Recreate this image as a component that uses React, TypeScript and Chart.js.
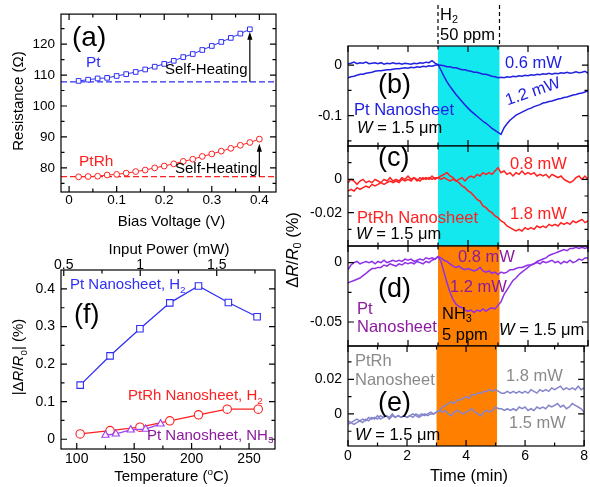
import React, { useEffect, useRef } from 'react';
import { Chart, registerables } from 'chart.js';

Chart.register(...registerables);

const FONT = "'Liberation Sans', Arial, Helvetica, sans-serif";
Chart.defaults.font.family = FONT;
const PAGE_W = 590;
const PAGE_H = 487;

// ---------------- Panel (a): Resistance vs bias voltage ----------------
const biasVoltagePt = [0.02, 0.04, 0.06, 0.08, 0.1, 0.12, 0.14, 0.16, 0.18, 0.2, 0.22, 0.24, 0.26, 0.28, 0.3, 0.32, 0.34, 0.36, 0.38];
const resistancePt = [108.1, 108.5, 108.9, 109.1, 109.7, 110.3, 111.0, 111.8, 112.7, 113.6, 114.6, 115.8, 116.8, 118.1, 119.4, 120.7, 122.0, 123.4, 124.8];
const biasVoltagePtRh = [0.02, 0.04, 0.06, 0.08, 0.1, 0.12, 0.14, 0.16, 0.18, 0.2, 0.22, 0.24, 0.26, 0.28, 0.3, 0.32, 0.34, 0.36, 0.38, 0.4];
const resistancePtRh = [77.1, 77.2, 77.3, 77.7, 77.9, 78.3, 78.8, 79.3, 80.0, 80.6, 81.3, 82.1, 82.8, 83.7, 84.5, 85.4, 86.3, 87.3, 88.2, 89.3];
const baselinePt = 107.8;
const baselinePtRh = 77.2;
const arrowPt = { x: 0.38, from: 107.8, to: 124.0 };
const arrowPtRh = { x: 0.4, from: 77.2, to: 87.8 };
const aXTicks = [0, 0.1, 0.2, 0.3, 0.4];
const aXMinor = [0.05, 0.15, 0.25, 0.35];
const aYTicks = [80, 90, 100, 110, 120];
const aYMinor = [75, 85, 95, 105, 115, 125];

// ---------------- Panel (f): |dR/R0| vs temperature ----------------
const tempPtH2 = [103, 129, 155, 181, 206, 232, 257];
const responsePtH2 = [0.144, 0.222, 0.294, 0.363, 0.408, 0.364, 0.326];
const tempPtRhH2 = [103, 129, 155, 181, 206, 231, 258];
const responsePtRhH2 = [0.014, 0.023, 0.032, 0.049, 0.065, 0.080, 0.080];
const tempPtNH3 = [125, 134, 147, 160, 173];
const responsePtNH3 = [0.011, 0.014, 0.025, 0.027, 0.041];
const fXTicks = [100, 150, 200, 250];
const fXMinor = [125, 175, 225];
const fTopTicks = [0.5, 1, 1.5];
const fTopMinor = [0.75, 1.25, 1.75];
const fYTicks = [0, 0.1, 0.2, 0.3, 0.4];
const fYMinor = [0.05, 0.15, 0.25, 0.35];

// ---------------- Panels (b)-(e): transients ----------------
const timeMin = [
  0, 0.1, 0.2, 0.3, 0.4, 0.5, 0.6, 0.7, 0.8, 0.9,
  1, 1.1, 1.2, 1.3, 1.4, 1.5, 1.6, 1.7, 1.8, 1.9,
  2, 2.1, 2.2, 2.3, 2.4, 2.5, 2.6, 2.7, 2.8, 2.9,
  3, 3.1, 3.2, 3.3, 3.4, 3.5, 3.6, 3.7, 3.8, 3.9,
  4, 4.1, 4.2, 4.3, 4.4, 4.5, 4.6, 4.7, 4.8, 4.9,
  5, 5.1, 5.2, 5.3, 5.4, 5.5, 5.6, 5.7, 5.8, 5.9,
  6, 6.1, 6.2, 6.3, 6.4, 6.5, 6.6, 6.7, 6.8, 6.9,
  7, 7.1, 7.2, 7.3, 7.4, 7.5, 7.6, 7.7, 7.8, 7.9,
  8,
];
const exposureStart = 3;
const exposureEnd = 5.05;
const timeTicks = [0, 2, 4, 6, 8];
const timeMinor = [1, 3, 5, 7];

const ptH2_06mW = [
  0.003, 0.004, 0.006, 0.003, 0.005, 0.004, 0.006, 0.003, 0.004, 0.005,
  0.003, 0.005, 0.002, 0.004, 0.003, 0.005, 0.003, 0.004, 0.002, 0.004,
  0.003, 0.002, 0.004, 0.003, 0.005, 0.004, 0.006, 0.005, 0.009, 0.004,
  0.001, 0.000, -0.001, -0.003, -0.003, -0.005, -0.005, -0.007, -0.009, -0.009,
  -0.011, -0.012, -0.014, -0.014, -0.016, -0.018, -0.018, -0.020, -0.022, -0.023,
  -0.025, -0.024, -0.025, -0.023, -0.024, -0.022, -0.023, -0.021, -0.022, -0.020,
  -0.021, -0.019, -0.020, -0.018, -0.019, -0.017, -0.018, -0.016, -0.018, -0.016,
  -0.017, -0.015, -0.016, -0.014, -0.016, -0.015, -0.013, -0.015, -0.014, -0.012,
  -0.016,
];
const ptH2_12mW = [
  -0.025, -0.023, -0.022, -0.020, -0.018, -0.018, -0.016, -0.015, -0.014, -0.012,
  -0.011, -0.011, -0.010, -0.009, -0.009, -0.008, -0.007, -0.007, -0.006, -0.005,
  -0.006, -0.004, -0.005, -0.003, -0.004, -0.002, -0.003, -0.001, -0.002, 0.000,
  0.001, -0.010, -0.022, -0.033, -0.042, -0.050, -0.058, -0.065, -0.072, -0.079,
  -0.085, -0.091, -0.096, -0.101, -0.106, -0.111, -0.115, -0.120, -0.125, -0.129,
  -0.133, -0.137, -0.124, -0.116, -0.109, -0.104, -0.099, -0.096, -0.093, -0.090,
  -0.087, -0.085, -0.082, -0.080, -0.078, -0.075, -0.074, -0.072, -0.071, -0.069,
  -0.067, -0.066, -0.064, -0.063, -0.061, -0.059, -0.058, -0.056, -0.055, -0.053,
  -0.051,
];
const ptRhH2_08mW = [
  -0.002, 0.000, -0.001, -0.003, -0.001, 0.000, -0.002, -0.001, -0.002, 0.000,
  -0.001, -0.002, 0.000, -0.001, 0.001, -0.001, 0.000, -0.001, 0.001, 0.000,
  0.002, 0.000, 0.001, -0.001, 0.001, 0.000, 0.001, 0.000, 0.002, 0.000,
  0.001, 0.000, 0.001, 0.000, -0.001, 0.000, -0.001, 0.000, 0.001, -0.001,
  0.001, 0.002, 0.001, 0.003, 0.002, 0.004, 0.003, 0.004, 0.003, 0.005,
  0.007, 0.004, 0.005, 0.003, 0.004, 0.002, 0.004, 0.003, 0.005, 0.003,
  0.004, 0.003, 0.004, 0.002, 0.003, 0.002, 0.003, 0.001, 0.003, 0.002,
  0.001, 0.002, 0.000, -0.001, -0.002, -0.001, 0.001, 0.002, 0.000, 0.002,
  0.000,
];
const ptRhH2_18mW = [
  -0.007, -0.006, -0.007, -0.005, -0.006, -0.005, -0.004, -0.005, -0.003, -0.004,
  -0.003, -0.002, -0.003, -0.002, -0.001, -0.002, -0.001, -0.002, 0.000, -0.001,
  0.000, -0.001, 0.001, 0.000, -0.001, 0.001, 0.000, 0.001, 0.000, 0.001,
  0.001, 0.002, 0.003, 0.004, 0.002, 0.001, -0.001, -0.002, -0.004, -0.005,
  -0.007, -0.008, -0.010, -0.012, -0.013, -0.016, -0.017, -0.019, -0.020, -0.022,
  -0.023, -0.025, -0.026, -0.028, -0.029, -0.030, -0.031, -0.030, -0.031, -0.029,
  -0.030, -0.029, -0.030, -0.028, -0.029, -0.028, -0.029, -0.027, -0.028, -0.027,
  -0.028, -0.026, -0.027, -0.026, -0.027, -0.025, -0.026, -0.025, -0.024, -0.026,
  -0.025,
];
const ptNH3_08mW = [
  -0.006, -0.002, 0.000, 0.001, -0.001, 0.000, 0.001, 0.000, 0.001, -0.001,
  0.001, 0.000, 0.002, 0.000, 0.001, 0.002, 0.001, 0.002, 0.001, 0.003,
  0.002, 0.003, 0.001, 0.002, 0.003, 0.002, 0.004, 0.003, 0.004, 0.003,
  0.005, 0.004, 0.002, 0.001, -0.001, -0.003, -0.004, -0.003, -0.005, -0.006,
  -0.005, -0.006, -0.007, -0.006, -0.004, -0.007, -0.008, -0.007, -0.009, -0.008,
  -0.010, -0.008, -0.009, -0.008, -0.006, -0.006, -0.005, -0.004, -0.004, -0.003,
  -0.002, -0.002, -0.001, 0.000, -0.001, 0.001, 0.000, 0.001, 0.002, 0.000,
  0.001, -0.001, 0.001, 0.000, 0.002, 0.000, 0.001, 0.003, 0.002, 0.004,
  0.004,
];
const ptNH3_12mW = [
  -0.017, -0.016, -0.015, -0.014, -0.013, -0.011, -0.009, -0.007, -0.005, -0.005,
  -0.004, -0.004, -0.002, -0.003, -0.001, -0.002, -0.003, -0.001, -0.002, 0.000,
  -0.001, 0.000, -0.001, 0.001, 0.000, -0.001, 0.001, 0.000, 0.002, 0.003,
  0.005, 0.001, -0.008, -0.017, -0.025, -0.031, -0.035, -0.037, -0.038, -0.040,
  -0.041, -0.040, -0.042, -0.040, -0.041, -0.039, -0.041, -0.039, -0.038, -0.039,
  -0.036, -0.033, -0.027, -0.023, -0.019, -0.015, -0.013, -0.010, -0.008, -0.006,
  -0.004, -0.002, -0.001, 0.001, 0.002, 0.003, 0.004, 0.006, 0.007, 0.008,
  0.009, 0.010, 0.011, 0.010, 0.012, 0.012, 0.013, 0.012, 0.013, 0.012,
  0.013,
];
const ptRhNH3_18mW = [
  -0.004, -0.005, -0.004, -0.003, -0.004, -0.003, -0.004, -0.002, -0.003, -0.002,
  -0.003, -0.001, -0.002, -0.001, -0.003, -0.001, -0.002, -0.001, -0.002, -0.001,
  -0.002, -0.001, 0.000, -0.001, -0.002, -0.001, 0.000, -0.001, 0.000, 0.000,
  0.001, 0.002, 0.004, 0.005, 0.006, 0.007, 0.006, 0.008, 0.008, 0.009,
  0.010, 0.009, 0.011, 0.011, 0.012, 0.012, 0.013, 0.013, 0.014, 0.013,
  0.014, 0.013, 0.012, 0.012, 0.013, 0.012, 0.013, 0.012, 0.013, 0.012,
  0.013, 0.012, 0.014, 0.013, 0.012, 0.014, 0.013, 0.014, 0.013, 0.015,
  0.014, 0.015, 0.016, 0.014, 0.015, 0.014, 0.015, 0.014, 0.016, 0.014,
  0.015,
];
const ptRhNH3_15mW = [
  -0.006, -0.005, -0.006, -0.005, -0.004, -0.005, -0.003, -0.004, -0.002, -0.003,
  -0.001, -0.003, -0.002, -0.001, -0.002, 0.000, -0.002, -0.001, -0.002, -0.001,
  -0.002, -0.001, -0.002, 0.000, -0.001, 0.000, -0.001, 0.000, 0.001, 0.000,
  0.001, 0.002, 0.001, 0.002, 0.000, -0.001, 0.001, 0.002, 0.001, 0.000,
  0.001, 0.002, 0.003, 0.001, 0.000, -0.001, 0.001, 0.002, 0.001, 0.002,
  0.004, 0.003, 0.003, 0.002, 0.003, 0.002, 0.003, 0.002, 0.004, 0.003,
  0.004, 0.002, 0.003, 0.002, 0.004, 0.003, 0.004, 0.003, 0.005, 0.004,
  0.005, 0.006, 0.004, 0.005, 0.003, 0.004, 0.006, 0.005, 0.004, 0.003,
  0.001,
];

const bYTicks = [0, -0.1];
const bYMinor = [-0.05, -0.15];
const cYTicks = [0, -0.02];
const cYMinor = [0.01, -0.01, -0.03];
const dYTicks = [0, -0.05];
const dYMinor = [-0.025];
const eYTicks = [0.02, 0];
const eYMinor = [0.03, 0.01, -0.01];

// ---------------- colours ----------------
const BLUE_A = '#2f2ff5';
const BLUE_B = '#2020e0';
const RED = '#ff2020';
const PURPLE_LINE = '#9030e6';
const PURPLE_TEXT = '#8c1a9e';
const VIOLET_MARK = '#a040f0';
const LAVENDER = '#8585cc';
const GRAY_TEXT = '#8a8a8a';
const CYAN = '#14e8ef';
const ORANGE = '#ff8000';

// ---------------- helpers ----------------
type Seg = { t: string; i?: boolean; sub?: boolean; sup?: boolean };
type TextItem = { s: string | Seg[]; x: number; y: number; size: number; color: string; align?: 'left' | 'center' | 'right'; rot?: number };
type Band = { from: number; to: number; color: string };
type AxisSpec = { min: number; max: number; major: number[]; minor: number[]; show?: boolean; pad?: number; lh?: number };
type PanelSpec = {
  id: string;
  area: { left: number; top: number; right: number; bottom: number };
  x: AxisSpec;
  y: AxisSpec;
  top?: AxisSpec;
  mirrorX: boolean;
  tickSize: number;
  datasets: any[];
  bands?: Band[];
  texts: TextItem[];
  extra?: (chart: any) => void;
};

const pts = (xs: number[], ys: number[]) => xs.map((x, i) => ({ x, y: ys[i] }));

function drawRich(ctx: CanvasRenderingContext2D, item: TextItem) {
  const segs: Seg[] = typeof item.s === 'string' ? [{ t: item.s }] : item.s;
  ctx.save();
  ctx.translate(item.x, item.y);
  if (item.rot) ctx.rotate((item.rot * Math.PI) / 180);
  ctx.textBaseline = 'middle';
  ctx.textAlign = 'left';
  ctx.fillStyle = item.color;
  const fontFor = (s: Seg) => `${s.i ? 'italic ' : ''}${s.sub || s.sup ? item.size * 0.66 : item.size}px ${FONT}`;
  let total = 0;
  const widths = segs.map((s) => {
    ctx.font = fontFor(s);
    const w = ctx.measureText(s.t).width;
    total += w;
    return w;
  });
  let x = item.align === 'center' ? -total / 2 : item.align === 'right' ? -total : 0;
  segs.forEach((s, k) => {
    ctx.font = fontFor(s);
    const dy = s.sub ? item.size * 0.32 : s.sup ? -item.size * 0.3 : 0;
    ctx.fillText(s.t, x, dy);
    x += widths[k];
  });
  ctx.restore();
}

function drawFrame(chart: any, spec: PanelSpec) {
  const { ctx, chartArea: a } = chart;
  const xs = chart.scales.x;
  const ys = chart.scales.y;
  const MAJ = 6;
  const MIN = 3.5;
  ctx.save();
  ctx.strokeStyle = '#000';
  ctx.lineWidth = 1.2;
  ctx.beginPath();
  const seg = (x1: number, y1: number, x2: number, y2: number) => {
    ctx.moveTo(x1, y1);
    ctx.lineTo(x2, y2);
  };
  const xTicks = (scale: any, vals: number[], len: number, bottom: boolean, top: boolean) =>
    vals.forEach((v) => {
      const p = scale.getPixelForValue(v);
      if (p < a.left - 0.5 || p > a.right + 0.5) return;
      if (bottom) seg(p, a.bottom, p, a.bottom - len);
      if (top) seg(p, a.top, p, a.top + len);
    });
  const yTicks = (vals: number[], len: number) =>
    vals.forEach((v) => {
      const p = ys.getPixelForValue(v);
      if (p < a.top - 0.5 || p > a.bottom + 0.5) return;
      seg(a.left, p, a.left + len, p);
      seg(a.right, p, a.right - len, p);
    });
  xTicks(xs, spec.x.major, MAJ, true, spec.mirrorX);
  xTicks(xs, spec.x.minor, MIN, true, spec.mirrorX);
  if (spec.top) {
    const ts = chart.scales.x2;
    xTicks(ts, spec.top.major, MAJ, false, true);
    xTicks(ts, spec.top.minor, MIN, false, true);
  }
  yTicks(spec.y.major, MAJ);
  yTicks(spec.y.minor, MIN);
  ctx.stroke();
  ctx.strokeRect(a.left, a.top, a.right - a.left, a.bottom - a.top);
  ctx.restore();
}

function figurePlugin(spec: PanelSpec) {
  return {
    id: 'figure_' + spec.id,
    beforeDatasetsDraw(chart: any) {
      const { ctx, chartArea: a } = chart;
      const xs = chart.scales.x;
      (spec.bands || []).forEach((b) => {
        const x1 = xs.getPixelForValue(b.from);
        const x2 = xs.getPixelForValue(b.to);
        ctx.save();
        ctx.fillStyle = b.color;
        ctx.fillRect(x1, a.top, x2 - x1, a.bottom - a.top);
        ctx.restore();
      });
    },
    afterDraw(chart: any) {
      drawFrame(chart, spec);
      if (spec.extra) spec.extra(chart);
      spec.texts.forEach((t) => drawRich(chart.ctx, t));
    },
  };
}

function linearAxis(ax: AxisSpec, position: string, fit: (s: any) => void, tickSize: number, extra: any = {}) {
  return {
    type: 'linear',
    position,
    bounds: 'data',
    min: ax.min,
    max: ax.max,
    afterBuildTicks: (s: any) => {
      s.ticks = ax.major.map((v) => ({ value: v }));
    },
    afterFit: fit,
    grid: { display: false, drawTicks: false },
    border: { display: false },
    ticks: {
      display: ax.show !== false,
      padding: ax.pad ?? 2,
      color: '#000',
      font: { family: FONT, size: tickSize, lineHeight: ax.lh ?? 1.2 },
      autoSkip: false,
      maxRotation: 0,
      minRotation: 0,
      callback: (v: number) => String(v),
    },
    ...extra,
  };
}

function buildConfig(spec: PanelSpec): any {
  const a = spec.area;
  const scales: any = {
    x: linearAxis(spec.x, 'bottom', (s: any) => { s.height = PAGE_H - a.bottom; }, spec.tickSize),
    y: linearAxis(spec.y, 'left', (s: any) => { s.width = a.left; }, spec.tickSize),
  };
  if (spec.top) {
    scales.x2 = linearAxis(spec.top, 'top', (s: any) => { s.height = a.top; }, spec.tickSize, { axis: 'x' });
  }
  return {
    type: 'scatter',
    data: { datasets: spec.datasets },
    options: {
      responsive: false,
      maintainAspectRatio: false,
      animation: false,
      devicePixelRatio: 1,
      events: [],
      layout: { padding: { left: 0, right: PAGE_W - a.right, top: spec.top ? 0 : a.top, bottom: 0 } },
      scales,
      plugins: { legend: { display: false }, tooltip: { enabled: false }, title: { display: false } },
    },
    plugins: [figurePlugin(spec)],
  };
}

const traceDs = (ys: number[], color: string) => ({
  data: pts(timeMin, ys),
  showLine: true,
  borderColor: color,
  borderWidth: 1.5,
  pointRadius: 0,
  tension: 0,
});

function drawArrow(chart: any, x: number, y0: number, y1: number) {
  const { ctx } = chart;
  const px = chart.scales.x.getPixelForValue(x);
  const p0 = chart.scales.y.getPixelForValue(y0);
  const p1 = chart.scales.y.getPixelForValue(y1);
  ctx.save();
  ctx.strokeStyle = '#000';
  ctx.fillStyle = '#000';
  ctx.lineWidth = 1.2;
  ctx.beginPath();
  ctx.moveTo(px, p0);
  ctx.lineTo(px, p1 + 6);
  ctx.stroke();
  ctx.beginPath();
  ctx.moveTo(px, p1);
  ctx.lineTo(px - 2.6, p1 + 8);
  ctx.lineTo(px + 2.6, p1 + 8);
  ctx.closePath();
  ctx.fill();
  ctx.restore();
}

const W_LABEL: Seg[] = [{ t: 'W', i: true }, { t: ' = 1.5 μm' }];
const RS = 16.5; // label size in transient panels
const PS = 27; // panel letter size

// ---------------- panel specs ----------------
const aX = { min: -0.017, max: 0.435, major: aXTicks, minor: aXMinor, pad: 0 };
const aY = { min: 72.2, max: 129.7, major: aYTicks, minor: aYMinor, pad: 6 };

const specA: PanelSpec = {
  id: 'a',
  area: { left: 61, top: 12, right: 276, bottom: 192 },
  x: aX,
  y: aY,
  mirrorX: true,
  tickSize: 13.5,
  datasets: [
    { data: pts(biasVoltagePt, resistancePt), showLine: true, borderColor: BLUE_A, borderWidth: 1, pointStyle: 'rect', pointRadius: 3.3, pointBackgroundColor: '#fff', pointBorderColor: BLUE_A, pointBorderWidth: 1 },
    { data: pts(biasVoltagePtRh, resistancePtRh), showLine: true, borderColor: RED, borderWidth: 1, pointStyle: 'circle', pointRadius: 2.9, pointBackgroundColor: '#fff', pointBorderColor: RED, pointBorderWidth: 1 },
    { data: [{ x: aX.min, y: baselinePt }, { x: aX.max, y: baselinePt }], showLine: true, borderColor: BLUE_A, borderWidth: 1.2, borderDash: [6, 3], pointRadius: 0 },
    { data: [{ x: aX.min, y: baselinePtRh }, { x: aX.max, y: baselinePtRh }], showLine: true, borderColor: RED, borderWidth: 1.2, borderDash: [6, 3], pointRadius: 0 },
  ],
  texts: [
    { s: '(a)', x: 72, y: 38.5, size: 28, color: '#000' },
    { s: 'Pt', x: 86, y: 63, size: 15.5, color: BLUE_A },
    { s: 'Self-Heating', x: 165, y: 70, size: 15, color: '#000' },
    { s: 'PtRh', x: 79, y: 162, size: 15.5, color: RED },
    { s: 'Self-Heating', x: 175, y: 169, size: 15, color: '#000' },
    { s: 'Resistance (Ω)', x: 19, y: 101, size: 15, color: '#000', align: 'center', rot: -90 },
    { s: 'Bias Voltage (V)', x: 171.5, y: 221.5, size: 15, color: '#000', align: 'center' },
  ],
  extra: (chart) => {
    drawArrow(chart, arrowPt.x, arrowPt.from, arrowPt.to);
    drawArrow(chart, arrowPtRh.x, arrowPtRh.from, arrowPtRh.to);
  },
};

const specF: PanelSpec = {
  id: 'f',
  area: { left: 61, top: 270, right: 275, bottom: 449 },
  x: { min: 86.3, max: 272.6, major: fXTicks, minor: fXMinor, pad: 2 },
  y: { min: -0.026, max: 0.4505, major: fYTicks, minor: fYMinor, pad: 6 },
  top: { min: 0.482, max: 1.881, major: fTopTicks, minor: fTopMinor, pad: 0, lh: 0.75 },
  mirrorX: false,
  tickSize: 14,
  datasets: [
    { data: pts(tempPtH2, responsePtH2), showLine: true, borderColor: BLUE_A, borderWidth: 1.3, pointStyle: 'rect', pointRadius: 4.6, pointBackgroundColor: '#fff', pointBorderColor: BLUE_A, pointBorderWidth: 1.1 },
    { data: pts(tempPtNH3, responsePtNH3), showLine: true, borderColor: VIOLET_MARK, borderWidth: 1.3, pointStyle: 'triangle', pointRadius: 4.2, pointBackgroundColor: '#fff', pointBorderColor: VIOLET_MARK, pointBorderWidth: 1.1 },
    { data: pts(tempPtRhH2, responsePtRhH2), showLine: true, borderColor: RED, borderWidth: 1.3, pointStyle: 'circle', pointRadius: 4.2, pointBackgroundColor: '#fff', pointBorderColor: RED, pointBorderWidth: 1.1 },
  ],
  texts: [
    { s: 'Input Power (mW)', x: 169, y: 250, size: 15, color: '#000', align: 'center' },
    { s: [{ t: 'Temperature (' }, { t: 'o', sup: true }, { t: 'C)' }], x: 171.5, y: 476.5, size: 15, color: '#000', align: 'center' },
    { s: [{ t: '|Δ' }, { t: 'R', i: true }, { t: '/' }, { t: 'R', i: true }, { t: '0', sub: true }, { t: '| (%)' }], x: 19, y: 357, size: 15, color: '#000', align: 'center', rot: -90 },
    { s: [{ t: 'Pt Nanosheet, H' }, { t: '2', sub: true }], x: 70, y: 285, size: 15, color: BLUE_A },
    { s: '(f)', x: 74, y: 316, size: PS, color: '#000' },
    { s: [{ t: 'PtRh Nanosheet, H' }, { t: '2', sub: true }], x: 128, y: 396, size: 15, color: RED },
    { s: [{ t: 'Pt Nanosheet, NH' }, { t: '3', sub: true }], x: 147, y: 435.5, size: 15, color: PURPLE_TEXT },
  ],
};

const tX = (show: boolean) => ({ min: 0, max: 8, major: timeTicks, minor: timeMinor, show, pad: 2 });
const R_LEFT = 348;
const R_RIGHT = 588;

const specB: PanelSpec = {
  id: 'b',
  area: { left: R_LEFT, top: 46, right: R_RIGHT, bottom: 146 },
  x: tX(false),
  y: { min: -0.16, max: 0.038, major: bYTicks, minor: bYMinor, pad: 6 },
  mirrorX: true,
  tickSize: 14,
  bands: [{ from: exposureStart, to: exposureEnd, color: CYAN }],
  datasets: [traceDs(ptH2_06mW, BLUE_B), traceDs(ptH2_12mW, BLUE_B)],
  texts: [
    { s: [{ t: 'H' }, { t: '2', sub: true }], x: 440, y: 15, size: RS, color: '#000' },
    { s: '50 ppm', x: 440, y: 35, size: RS, color: '#000' },
    { s: '0.6 mW', x: 505, y: 63, size: RS, color: BLUE_B },
    { s: '1.2 mW', x: 533, y: 92, size: RS, color: BLUE_B, align: 'center', rot: -19 },
    { s: '(b)', x: 378, y: 86, size: PS, color: '#000' },
    { s: 'Pt Nanosheet', x: 354, y: 110, size: RS, color: BLUE_B },
    { s: W_LABEL, x: 357, y: 128, size: RS, color: '#000' },
  ],
  extra: (chart) => {
    const { ctx, chartArea: a } = chart;
    ctx.save();
    ctx.strokeStyle = '#000';
    ctx.lineWidth = 1.2;
    ctx.setLineDash([4, 3]);
    [exposureStart, exposureEnd].forEach((t) => {
      const p = chart.scales.x.getPixelForValue(t);
      ctx.beginPath();
      ctx.moveTo(p, a.top - 41);
      ctx.lineTo(p, a.top);
      ctx.stroke();
    });
    ctx.restore();
  },
};

const specC: PanelSpec = {
  id: 'c',
  area: { left: R_LEFT, top: 146, right: R_RIGHT, bottom: 246 },
  x: tX(false),
  y: { min: -0.04, max: 0.02, major: cYTicks, minor: cYMinor, pad: 6 },
  mirrorX: true,
  tickSize: 14,
  bands: [{ from: exposureStart, to: exposureEnd, color: CYAN }],
  datasets: [traceDs(ptRhH2_08mW, RED), traceDs(ptRhH2_18mW, RED)],
  texts: [
    { s: '(c)', x: 378, y: 159, size: PS, color: '#000' },
    { s: '0.8 mW', x: 510, y: 164, size: RS, color: RED },
    { s: '1.8 mW', x: 510, y: 214, size: RS, color: RED },
    { s: 'PtRh Nanosheet', x: 357, y: 218, size: RS, color: RED },
    { s: W_LABEL, x: 356, y: 234, size: RS, color: '#000' },
  ],
};

const specD: PanelSpec = {
  id: 'd',
  area: { left: R_LEFT, top: 246, right: R_RIGHT, bottom: 346 },
  x: tX(false),
  y: { min: -0.0702, max: 0.014, major: dYTicks, minor: dYMinor, pad: 6 },
  mirrorX: true,
  tickSize: 14,
  bands: [{ from: exposureStart, to: exposureEnd, color: ORANGE }],
  datasets: [traceDs(ptNH3_08mW, PURPLE_LINE), traceDs(ptNH3_12mW, PURPLE_LINE)],
  texts: [
    { s: '0.8 mW', x: 458, y: 257, size: RS, color: PURPLE_TEXT },
    { s: '1.2 mW', x: 450, y: 287, size: RS, color: PURPLE_TEXT },
    { s: '(d)', x: 378, y: 290, size: PS, color: '#000' },
    { s: 'Pt', x: 357, y: 309, size: RS, color: PURPLE_TEXT },
    { s: 'Nanosheet', x: 357, y: 327, size: RS, color: PURPLE_TEXT },
    { s: [{ t: 'NH' }, { t: '3', sub: true }], x: 442, y: 314, size: RS, color: '#000' },
    { s: '5 ppm', x: 442, y: 335, size: RS, color: '#000' },
    { s: W_LABEL, x: 499, y: 330, size: RS, color: '#000' },
  ],
};

const specE: PanelSpec = {
  id: 'e',
  area: { left: R_LEFT, top: 346, right: R_RIGHT, bottom: 446 },
  x: tX(true),
  y: { min: -0.0185, max: 0.0392, major: eYTicks, minor: eYMinor, pad: 6 },
  mirrorX: true,
  tickSize: 14,
  bands: [{ from: exposureStart, to: exposureEnd, color: ORANGE }],
  datasets: [traceDs(ptRhNH3_18mW, LAVENDER), traceDs(ptRhNH3_15mW, LAVENDER)],
  texts: [
    { s: 'PtRh', x: 355, y: 361, size: RS, color: GRAY_TEXT },
    { s: 'Nanosheet', x: 355, y: 380, size: RS, color: GRAY_TEXT },
    { s: '(e)', x: 378, y: 404, size: PS, color: '#000' },
    { s: '1.8 mW', x: 506, y: 376, size: RS, color: GRAY_TEXT },
    { s: '1.5 mW', x: 509, y: 423, size: RS, color: GRAY_TEXT },
    { s: W_LABEL, x: 355, y: 435, size: RS, color: '#000' },
    { s: 'Time (min)', x: 469, y: 476, size: RS, color: '#000', align: 'center' },
    { s: [{ t: 'Δ' }, { t: 'R', i: true }, { t: '/' }, { t: 'R', i: true }, { t: '0', sub: true }, { t: ' (%)' }], x: 293, y: 250, size: RS, color: '#000', align: 'center', rot: -90 },
  ],
};

const SPECS = [specA, specF, specB, specC, specD, specE];

function Layer({ spec }: { spec: PanelSpec }) {
  const ref = useRef<HTMLCanvasElement | null>(null);
  useEffect(() => {
    if (!ref.current) return;
    const chart = new Chart(ref.current, buildConfig(spec));
    return () => chart.destroy();
  }, [spec]);
  return <canvas ref={ref} width={PAGE_W} height={PAGE_H} style={{ position: 'absolute', left: 0, top: 0, width: PAGE_W, height: PAGE_H }} />;
}

export default function App() {
  return (
    <div style={{ position: 'fixed', left: 0, top: 0, width: PAGE_W, height: PAGE_H, background: '#fff', overflow: 'hidden' }}>
      {SPECS.map((s) => (
        <Layer key={s.id} spec={s} />
      ))}
    </div>
  );
}
